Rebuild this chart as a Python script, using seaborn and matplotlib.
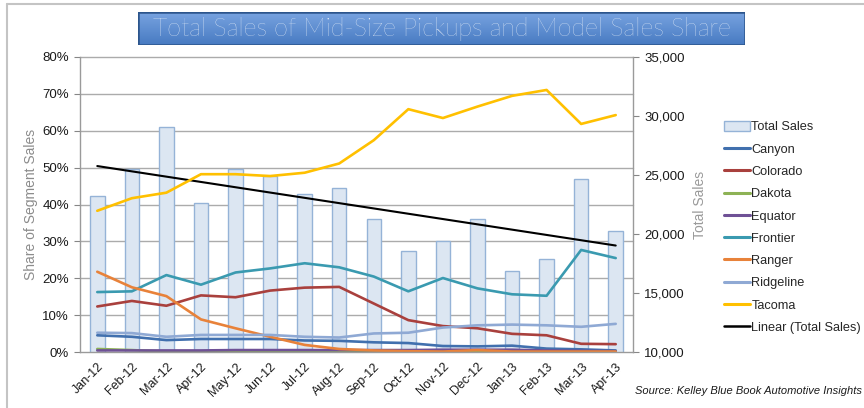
import numpy as np
import pandas as pd
import matplotlib
matplotlib.use("Agg")
import matplotlib.pyplot as plt
import matplotlib.transforms as mtrans
from matplotlib.patches import Patch, Rectangle
from matplotlib.lines import Line2D
import seaborn as sns

months = ['Jan-12', 'Feb-12', 'Mar-12', 'Apr-12', 'May-12', 'Jun-12', 'Jul-12', 'Aug-12',
          'Sep-12', 'Oct-12', 'Nov-12', 'Dec-12', 'Jan-13', 'Feb-13', 'Mar-13', 'Apr-13']
total_sales = [23200, 25500, 29050, 22600, 25500, 24950, 23400, 23900,
               21300, 18600, 19400, 21250, 16850, 17850, 24650, 20250]

canyon = [4.6, 4.2, 3.3, 3.6, 3.6, 3.6, 3.2, 3.1, 2.7, 2.5, 1.7, 1.6, 1.8, 1.0, 0.8, 0.5]
colorado = [12.4, 13.9, 12.6, 15.4, 14.9, 16.7, 17.5, 17.7, 13.2, 8.7, 7.1, 6.5, 5.0, 4.6, 2.3, 2.2]
dakota = [0.9, 0.6, 0.2, 0.2, 0.2, 0.2, 0.2, 0.1, 0.1, 0.1, 0.1, 0.2, 0.1, 0.1, 0.1, 0.1]
equator = [0.5, 0.5, 0.5, 0.5, 0.6, 0.6, 0.6, 0.6, 0.6, 0.6, 0.7, 0.7, 0.7, 0.5, 0.4, 0.3]
frontier = [16.3, 16.5, 20.9, 18.3, 21.6, 22.7, 24.1, 23.0, 20.5, 16.5, 20.1, 17.3, 15.7, 15.3, 27.7, 25.5]
ranger = [21.8, 17.6, 15.2, 8.9, 6.5, 4.2, 2.0, 0.9, 0.5, 0.3, 0.2, 0.6, 0.2, 0.2, 0.2, 0.2]
ridgeline = [5.3, 5.2, 4.2, 4.7, 4.7, 4.7, 4.2, 4.0, 5.1, 5.3, 6.7, 7.3, 7.5, 7.3, 6.9, 7.7]
tacoma = [38.3, 41.7, 43.2, 48.2, 48.2, 47.7, 48.6, 51.1, 57.4, 65.8, 63.4, 66.5, 69.4, 71.0, 61.8, 64.2]

models = ['Canyon', 'Colorado', 'Dakota', 'Equator', 'Frontier', 'Ranger', 'Ridgeline', 'Tacoma']
shares = [canyon, colorado, dakota, equator, frontier, ranger, ridgeline, tacoma]
colors = ['#4170ae', '#a9403d', '#8db255', '#6f5196', '#3a9ab0', '#e8823a', '#8fa9d4', '#ffc000']
palette = dict(zip(models, colors))

left_ticks = [0, 10, 20, 30, 40, 50, 60, 70, 80]
right_ticks = [10000, 15000, 20000, 25000, 30000, 35000]

idx = np.arange(len(months))
df = pd.DataFrame({
    'idx': np.tile(idx, len(models)),
    'Model': np.repeat(models, len(months)),
    'Share': np.concatenate(shares),
})

sns.set_style('white')
plt.rcParams['font.family'] = ['Liberation Sans', 'DejaVu Sans']

W, H = 864, 408
fig = plt.figure(figsize=(W / 100, H / 100), dpi=100)
fig.patch.set_facecolor('white')

ax = fig.add_axes([80 / W, 1 - 352.3 / H, (633 - 80) / W, (352.3 - 56.7) / H])
ax2 = ax.twinx()

# bars + trend on secondary axis
sns.barplot(x=idx, y=total_sales, ax=ax2, color='#dce6f2', saturation=1,
            edgecolor='#95b3d7', linewidth=1.0, width=0.42, zorder=2)
sns.regplot(x=idx, y=total_sales, ax=ax2, scatter=False, ci=None, truncate=True,
            color='black', line_kws={'lw': 1.5, 'zorder': 3})

# gridlines behind bars (left axis positions)
blend = mtrans.blended_transform_factory(ax2.transAxes, ax.transData)
for v in left_ticks[1:]:
    ax2.plot([0, 1], [v, v], transform=blend, color='#ababab', lw=1.0, zorder=0.5, clip_on=False)

# model share lines on primary axis
sns.lineplot(data=df, x='idx', y='Share', hue='Model', hue_order=models, palette=palette,
             ax=ax, lw=1.9, legend=False)

ax.set_zorder(ax2.get_zorder() + 1)
ax.patch.set_visible(False)

ax.set_xlim(-0.5, len(months) - 0.5)
ax.set_ylim(0, 80)
ax2.set_ylim(10000, 35000)

ax.set_yticks(left_ticks)
ax.set_yticklabels([f'{v}%' for v in left_ticks])
ax2.set_yticks(right_ticks)
ax2.set_yticklabels([f'{v:,}' for v in right_ticks])
ax.set_xticks(idx)
ax.set_xticklabels(months, rotation=45, ha='right', rotation_mode='anchor')
ax.set_xticks(np.arange(-0.5, len(months), 1.0), minor=True)

ax.tick_params(axis='x', which='major', length=0, pad=6, labelsize=9, colors='#1a1a1a')
ax.tick_params(axis='x', which='minor', length=4, color='#868686', width=1)
ax.tick_params(axis='y', length=4, color='#868686', labelsize=9.5, labelcolor='#1a1a1a', pad=4)
ax2.tick_params(axis='y', length=4, color='#868686', labelsize=9.5, labelcolor='#1a1a1a', pad=4)

ax.set_xlabel('')
ax.set_ylabel('Share of Segment Sales', color='#8c8c8c', fontsize=10, labelpad=3)
ax2.set_ylabel('Total Sales', color='#9a9a9a', fontsize=10, labelpad=6)

for a in (ax, ax2):
    a.spines['top'].set_visible(False)
    for s in ('left', 'right', 'bottom'):
        a.spines[s].set_color('#9a9a9a')
        a.spines[s].set_linewidth(1.0)
ax.spines['right'].set_visible(False)
ax2.spines['left'].set_visible(False)
ax2.spines['bottom'].set_visible(False)

# legend
handles = [Patch(facecolor='#dce6f2', edgecolor='#95b3d7', lw=1.0)]
labels = ['Total Sales']
for m, c in zip(models, colors):
    handles.append(Line2D([0], [0], color=c, lw=2.2))
    labels.append(m)
handles.append(Line2D([0], [0], color='black', lw=1.8))
labels.append('Linear (Total Sales)')
fig.legend(handles, labels, loc='upper left', bbox_to_anchor=(724 / W, 1 - 121 / H),
           frameon=False, fontsize=9.2, handlelength=2.0, handleheight=0.8,
           handletextpad=0.15, labelspacing=0.78, borderpad=0, borderaxespad=0)

# title box with gradient
tax = fig.add_axes([138 / W, 1 - 45 / H, (745 - 138) / W, 33 / H])
grad = np.linspace(0, 1, 64)[:, None]
top = np.array([0.47, 0.64, 0.88])
bot = np.array([0.28, 0.48, 0.76])
img = top[None, None, :] * (1 - grad[..., None]) + bot[None, None, :] * grad[..., None]
img = np.repeat(img, 8, axis=1)
tax.imshow(img, aspect='auto', extent=(0, 1, 0, 1))
tax.set_xlim(0, 1)
tax.set_ylim(0, 1)
tax.add_patch(Rectangle((0, 0), 1, 1, fill=False, edgecolor='#2c558c', lw=1.8))
tax.axis('off')
fig.text(442 / W, 1 - 29 / H, 'Total Sales of Mid-Size Pickups and Model Sales Share',
         ha='center', va='center', color='white', fontsize=18,
         family=['Lato', 'Liberation Sans', 'DejaVu Sans'], fontweight='light')

# source
fig.text(635 / W, 1 - 391 / H, 'Source: Kelley Blue Book Automotive Insights',
         ha='left', va='center', fontsize=8, style='italic', color='#1a1a1a')

# outer frame
fig.add_artist(Line2D([7 / W, 1], [1 - 4 / H, 1 - 4 / H], transform=fig.transFigure,
                      color='#c4c4c4', lw=1.5))
fig.add_artist(Line2D([7 / W, 7 / W], [0, 1 - 4 / H], transform=fig.transFigure,
                      color='#c4c4c4', lw=1.5))

fig.savefig('out.png', dpi=100, facecolor='white')
